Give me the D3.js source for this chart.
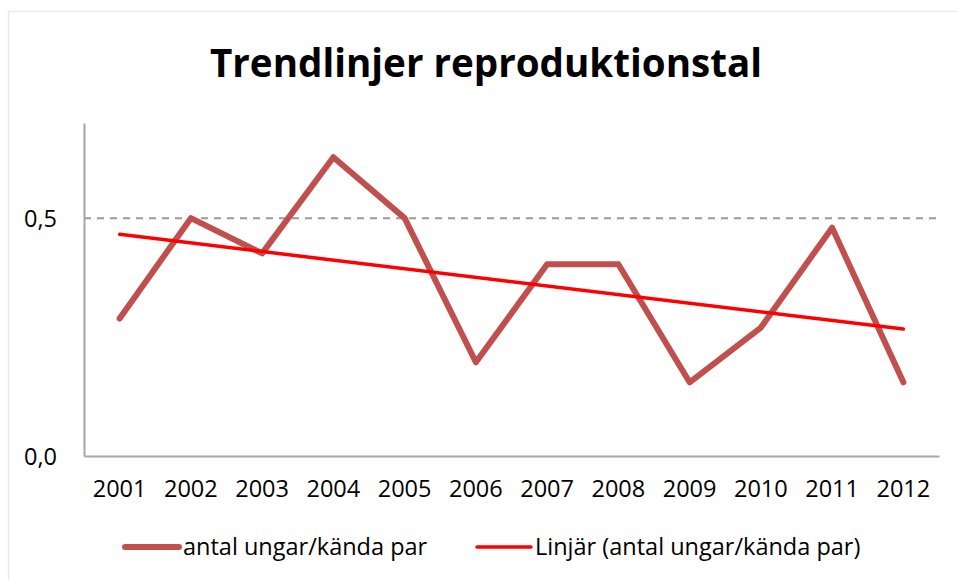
<!DOCTYPE html>
<html>
<head>
<meta charset="utf-8">
<script src="https://cdn.jsdelivr.net/npm/d3@7"></script>
<style>
  body { margin: 0; background: #fff; }
  text { font-family: "Open Sans", "Noto Sans", sans-serif; fill: #000; }
</style>
</head>
<body>
<svg id="chart" width="957" height="580"></svg>
<script>
// data
let years = ['2001', '2002', '2003', '2004', '2005', '2006', '2007', '2008', '2009', '2010', '2011', '2012'];
let ratio = [0.289, 0.500, 0.426, 0.628, 0.500, 0.197, 0.403, 0.403, 0.155, 0.270, 0.480, 0.155];
let trend_years = ['2001', '2012'];
let trend_values = [0.466, 0.267];
let y_ticks = [0, 0.5];
let series_names = ['antal ungar/kända par', 'Linjär (antal ungar/kända par)'];

const svg = d3.select('#chart');
const margin = {left: 84, right: 18, top: 123, bottom: 124};
const width = 957 - margin.left - margin.right;
const height = 580 - margin.top - margin.bottom;
const label_size = '23.5px';

// outer frame
svg.append('path')
    .attr('d', 'M8.5,580 V11.5 H957')
    .attr('fill', 'none')
    .attr('stroke', '#ebebe2')
    .attr('stroke-width', 1.5);

svg.append('text')
    .attr('x', 486)
    .attr('y', 77)
    .attr('text-anchor', 'middle')
    .style('font-size', '38.6px')
    .style('font-weight', 'bold')
    .text('Trendlinjer reproduktionstal');

const g = svg.append('g').attr('transform', `translate(${margin.left},${margin.top})`);

let x = d3.scaleBand().domain(years).range([0, width]);
let y = d3.scaleLinear().domain([0, 0.7]).range([height, 0]);

// dashed gridline at 0.5
g.selectAll('.grid')
    .data(y_ticks.filter(d => d > 0))
    .join('line')
    .attr('class', 'grid')
    .attr('x1', 0).attr('x2', width)
    .attr('y1', d => y(d)).attr('y2', d => y(d))
    .attr('stroke', '#9a9a9a')
    .attr('stroke-width', 2)
    .attr('stroke-dasharray', '7,6');

// y axis
let y_axis = g.append('g').call(d3.axisLeft(y).tickValues(y_ticks).tickSize(0).tickPadding(27)
    .tickFormat(d => d3.format('.1f')(d).replace('.', ',')));
y_axis.select('.domain').attr('stroke', '#a6a6a6').attr('stroke-width', 2);
y_axis.selectAll('text').style('font-size', label_size).attr('dy', '0.36em');

// x axis
let x_axis = g.append('g').attr('transform', `translate(0,${height})`)
    .call(d3.axisBottom(x).tickSize(0).tickPadding(24));
x_axis.select('.domain').attr('stroke', '#a6a6a6').attr('stroke-width', 2);
x_axis.selectAll('text').style('font-size', label_size);

// data line
let line = d3.line().x((d, i) => x(years[i]) + x.bandwidth() / 2).y(d => y(d));
g.append('path')
    .datum(ratio)
    .attr('d', line)
    .attr('fill', 'none')
    .attr('stroke', '#c0504d')
    .attr('stroke-width', 6)
    .attr('stroke-linejoin', 'round')
    .attr('stroke-linecap', 'round');

// linear trendline
let trend_line = d3.line().x((d, i) => x(trend_years[i]) + x.bandwidth() / 2).y(d => y(d));
g.append('path')
    .datum(trend_values)
    .attr('d', trend_line)
    .attr('fill', 'none')
    .attr('stroke', '#ff0000')
    .attr('stroke-width', 3.5)
    .attr('stroke-linecap', 'round');

// legend
let legend_items = [
    {name: series_names[0], color: '#c0504d', w: 6, x: 125},
    {name: series_names[1], color: '#ff0000', w: 3.5, x: 477}
];
let legend = svg.append('g').attr('transform', 'translate(0,547)');
legend_items.forEach(item => {
    legend.append('line')
        .attr('x1', item.x).attr('x2', item.x + 54)
        .attr('y1', 0).attr('y2', 0)
        .attr('stroke', item.color)
        .attr('stroke-width', item.w)
        .attr('stroke-linecap', 'round');
    legend.append('text')
        .attr('x', item.x + 58)
        .attr('y', 8)
        .style('font-size', label_size)
        .text(item.name);
});
</script>
</body>
</html>
